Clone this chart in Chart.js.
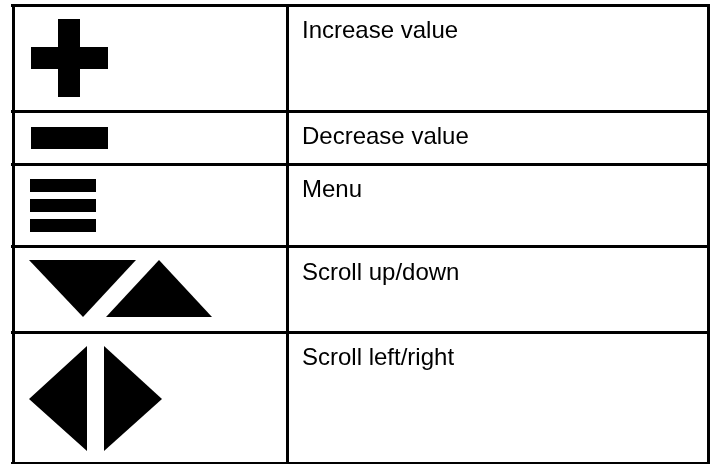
<!DOCTYPE html>
<html>
<head>
<meta charset="utf-8">
<script src="https://cdn.jsdelivr.net/npm/chart.js@4/dist/chart.umd.min.js"></script>
<style>
    html, body { margin: 0; padding: 0; background: #fff; }
    #wrap { width: 716px; height: 464px; }
</style>
</head>
<body>
<div id="wrap"><canvas id="keyChart"></canvas></div>
<script>
// row captions, top to bottom
var labels = ['Increase value', 'Decrease value', 'Menu', 'Scroll up/down', 'Scroll left/right'];

// table rules, in picture units
var rowLines = [5, 111, 164, 247, 332, 463];
var colLines = [13, 287, 708];

// icon outlines, one polygon per shape
var plusIcon = [[58, 19], [80, 19], [80, 47], [108, 47], [108, 69], [80, 69], [80, 97], [58, 97], [58, 69], [31, 69], [31, 47], [58, 47]];
var minusIcon = [[31, 127], [108, 127], [108, 149], [31, 149]];
var menuBar1 = [[30, 179], [96, 179], [96, 192], [30, 192]];
var menuBar2 = [[30, 199], [96, 199], [96, 212], [30, 212]];
var menuBar3 = [[30, 219], [96, 219], [96, 232], [30, 232]];
var downIcon = [[29, 260], [136, 260], [83, 317]];
var upIcon = [[159, 260], [212, 317], [106, 317]];
var leftIcon = [[29, 399], [87, 346], [87, 451]];
var rightIcon = [[104, 346], [162, 399], [104, 451]];

var shapes = [plusIcon, minusIcon, menuBar1, menuBar2, menuBar3, downIcon, upIcon, leftIcon, rightIcon];

var textX = 302;
var textDrop = 32.5;

var captions = {
    id: 'captions',
    afterDraw: function(chart) {
        var ctx = chart.ctx;
        var sx = chart.scales.x, sy = chart.scales.y;
        ctx.save();
        ctx.fillStyle = '#000';
        ctx.font = '24px "Liberation Sans", Arial, sans-serif';
        ctx.textAlign = 'left';
        ctx.textBaseline = 'alphabetic';
        labels.forEach(function(text, i) {
            ctx.fillText(text, sx.getPixelForValue(textX), sy.getPixelForValue(rowLines[i] + textDrop));
        });
        ctx.restore();
    }
};

document.addEventListener('DOMContentLoaded', function() {
    var ctx = document.getElementById('keyChart').getContext('2d');
    var keyChart = new Chart(ctx, {
        type: 'line',
        data: {
            datasets: shapes.map(function(poly) {
                return {
                    data: poly.map(function(p) { return { x: p[0], y: p[1] }; }),
                    fill: 'shape',
                    backgroundColor: '#000',
                    borderColor: 'rgba(0,0,0,0)',
                    borderWidth: 1,
                    pointRadius: 0,
                    tension: 0
                };
            })
        },
        options: {
            responsive: true,
            maintainAspectRatio: false,
            animation: false,
            layout: { padding: { left: 11, right: 6, top: 4, bottom: 0 } },
            plugins: {
                legend: { display: false },
                tooltip: { enabled: false }
            },
            scales: {
                x: {
                    type: 'linear',
                    min: 11,
                    max: 710,
                    afterBuildTicks: function(scale) {
                        scale.ticks = colLines.map(function(v) { return { value: v }; });
                    },
                    ticks: { display: false },
                    grid: { color: '#000', lineWidth: 3, drawTicks: false },
                    border: { display: false }
                },
                y: {
                    type: 'linear',
                    min: 4,
                    max: 464,
                    reverse: true,
                    afterBuildTicks: function(scale) {
                        scale.ticks = rowLines.map(function(v) { return { value: v }; });
                    },
                    ticks: { display: false },
                    grid: { color: '#000', lineWidth: 3, drawTicks: false },
                    border: { display: false }
                }
            }
        },
        plugins: [captions]
    });
});
</script>
</body>
</html>
